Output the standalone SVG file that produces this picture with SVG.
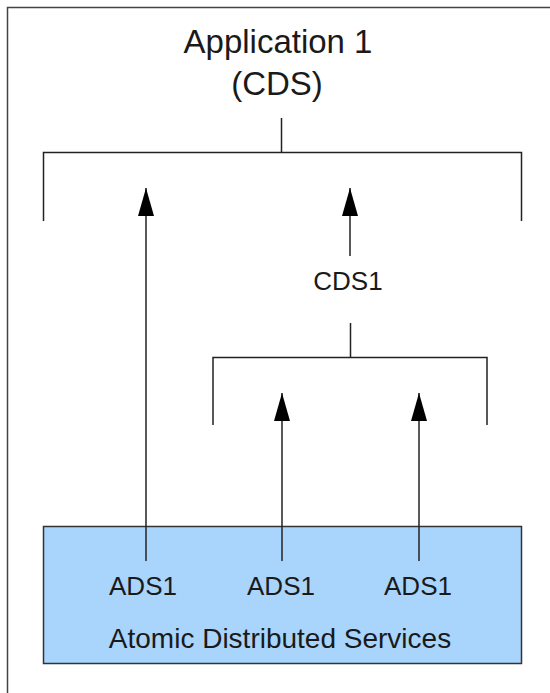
<svg xmlns="http://www.w3.org/2000/svg" width="550" height="693" viewBox="0 0 550 693">
<style>
.ln{stroke:#222;stroke-width:1.5;fill:none}
.t{font-family:"Liberation Sans",Arial,sans-serif;fill:#1a1a1a;text-anchor:middle}
</style>
<defs>
<marker id="arrow" viewBox="0 0 28 16" refX="28" refY="8" markerWidth="28" markerHeight="16" markerUnits="userSpaceOnUse" orient="auto">
<path d="M0,0 L28,8 L0,16 Z" fill="#000"/>
</marker>
</defs>
<rect x="0" y="0" width="550" height="693" fill="#fff"/>
<rect x="7.5" y="7.5" width="560" height="700" fill="none" stroke="#444" stroke-width="1.5"/>
<g id="app1">
<text class="t" x="278" y="53" font-size="33">Application 1</text>
<text class="t" x="277" y="95" font-size="33">(CDS)</text>
</g>
<g id="cds1">
<text class="t" x="348" y="290" font-size="26">CDS1</text>
</g>
<g id="ads">
<rect x="43.5" y="526.5" width="478" height="137" fill="#a9d5fd" stroke="#333" stroke-width="1.5"/>
<text class="t" x="143" y="595" font-size="26">ADS1</text>
<text class="t" x="281" y="595" font-size="26">ADS1</text>
<text class="t" x="418" y="595" font-size="26">ADS1</text>
<text class="t" x="280" y="648" font-size="28">Atomic Distributed Services</text>
</g>
<g id="connectors">
<path class="ln" d="M281.5,118 V152.5 M43.5,221 V152.5 H521.5 V221"/>
<path class="ln" d="M350.5,323 V357.5 M213,425 V357.5 H487 V425"/>
<line class="ln" x1="146" y1="561" x2="146" y2="188" marker-end="url(#arrow)"/>
<line class="ln" x1="350" y1="256" x2="350" y2="188" marker-end="url(#arrow)"/>
<line class="ln" x1="282" y1="561" x2="282" y2="393" marker-end="url(#arrow)"/>
<line class="ln" x1="419" y1="561" x2="419" y2="393" marker-end="url(#arrow)"/>
</g>
</svg>
